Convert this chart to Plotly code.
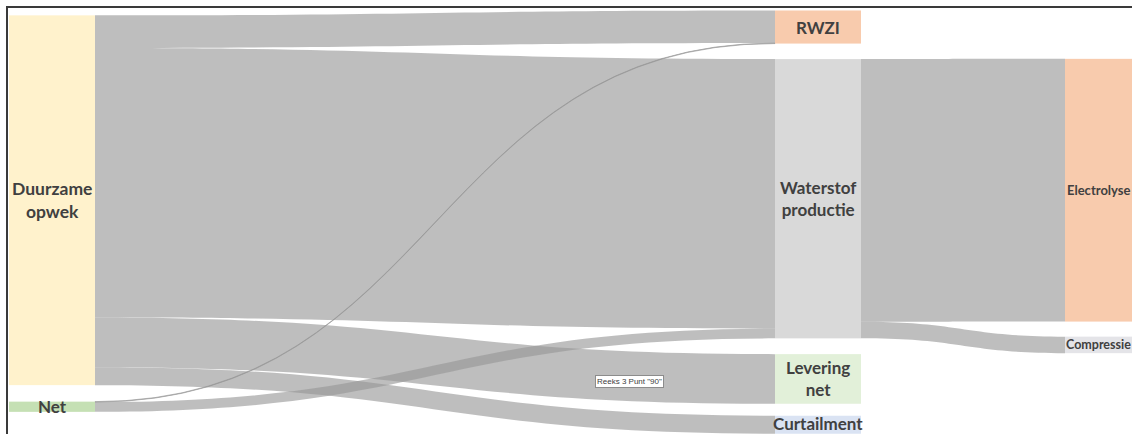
import plotly.graph_objects as go

# ---------------- data ----------------
node_names = ["Duurzame opwek", "Net", "RWZI", "Waterstof productie",
              "Levering net", "Curtailment", "Electrolyse", "Compressie"]
node_text = ["Duurzame<br>opwek", "Net", "RWZI", "Waterstof<br>productie",
             "Levering<br>net", "Curtailment", "Electrolyse", "Compressie"]
node_column = [0, 0, 1, 1, 1, 1, 2, 2]

link_source = [0, 0, 0, 0, 1, 1, 3, 3]
link_target = [2, 3, 4, 5, 2, 3, 6, 7]
link_value = [33.5, 277, 51, 18.5, 0.5, 10, 270, 17]

tooltip_text = 'Reeks 3 Punt "90"'

# ---------------- style ----------------
node_colors = ["#FFF2CC", "#C5E0B4", "#F8CBAD", "#D9D9D9",
               "#E2F0D9", "#DAE3F3", "#F8CBAD", "#E4E4E8"]
label_sizes = [17.5, 17, 17, 17, 17, 17, 13, 12.5]
link_color = "rgba(150,150,150,0.62)"

W_FIG, H_FIG = 1132, 434
MT, MB, ML, MR = 10, 0, 0, 0
PAD = 11
THICK = 86
col_center_px = [52, 818, 1108]   # horizontal centre of each column

H = H_FIG - MT - MB
Wd = W_FIG - ML - MR

n = len(node_names)
val_in = [0.0] * n
val_out = [0.0] * n
for s, t, v in zip(link_source, link_target, link_value):
    val_out[s] += v
    val_in[t] += v
node_val = [max(a, b) for a, b in zip(val_in, val_out)]

# scale as plotly/d3-sankey computes it
cols = sorted(set(node_column))
ky = min((H - (sum(1 for c in node_column if c == col) - 1) * PAD) /
         sum(node_val[i] for i in range(n) if node_column[i] == col) for col in cols)

# stack nodes in each column; last column aligned with its source node
top = [0.0] * n
for col in cols:
    idx = [i for i in range(n) if node_column[i] == col]
    if col == max(cols):
        first = idx[0]
        src = [s for s, t in zip(link_source, link_target) if t == first][0]
        y = top[src]
    else:
        y = 0.0
    for i in idx:
        top[i] = y
        y += node_val[i] * ky + PAD

center_y = [top[i] + node_val[i] * ky / 2 for i in range(n)]
node_y = [c / H for c in center_y]
node_x = [(col_center_px[node_column[i]] - ML) / Wd for i in range(n)]

fig = go.Figure(go.Sankey(
    arrangement="fixed",
    node=dict(
        label=[""] * n,
        color=node_colors,
        pad=PAD,
        thickness=THICK,
        line=dict(width=0),
        x=node_x,
        y=node_y,
        hoverinfo="none",
    ),
    link=dict(
        source=link_source,
        target=link_target,
        value=link_value,
        color=link_color,
        hoverinfo="none",
    ),
))

# labels centred in the visible part of each node
annotations = []
for i in range(n):
    cx = col_center_px[node_column[i]]
    left = max(cx - THICK / 2, 0)
    right = min(cx + THICK / 2, W_FIG)
    lx = (left + right) / 2
    t_px = MT + top[i]
    b_px = min(MT + top[i] + node_val[i] * ky, H_FIG - 2)
    ly = (t_px + b_px) / 2
    annotations.append(dict(
        x=(lx - ML) / Wd, y=1 - (ly - MT) / H, xref="paper", yref="paper",
        text="<b>" + node_text[i] + "</b>", showarrow=False,
        xanchor="center", yanchor="middle",
        font=dict(family="Lato, Carlito, sans-serif", size=label_sizes[i], color="#404040"),
    ))

# Excel-style hover tooltip captured in the reference
annotations.append(dict(
    x=(629 - ML) / Wd, y=1 - (381 - MT) / H, xref="paper", yref="paper",
    text=tooltip_text, showarrow=False, xanchor="center", yanchor="middle",
    font=dict(family="Liberation Sans, Arial, sans-serif", size=8, color="#404040"),
    bgcolor="white", bordercolor="#8c8c8c", borderwidth=1, borderpad=1,
))

fig.update_layout(
    width=W_FIG, height=H_FIG,
    margin=dict(l=ML, r=MR, t=MT, b=MB, pad=0),
    paper_bgcolor="white",
    plot_bgcolor="white",
    annotations=annotations,
    shapes=[dict(
        type="rect", xref="paper", yref="paper",
        x0=(7 - ML) / Wd, x1=1.2, y0=-0.2, y1=1 + (MT - 7) / H,
        line=dict(color="#3a3a3a", width=2), fillcolor="rgba(0,0,0,0)",
        layer="above",
    )],
)

# remove the default 8px page margin so the figure fills the window exactly
fig.write_html("out.html", config={"displayModeBar": False},
               post_script="document.body.style.margin='0';")
